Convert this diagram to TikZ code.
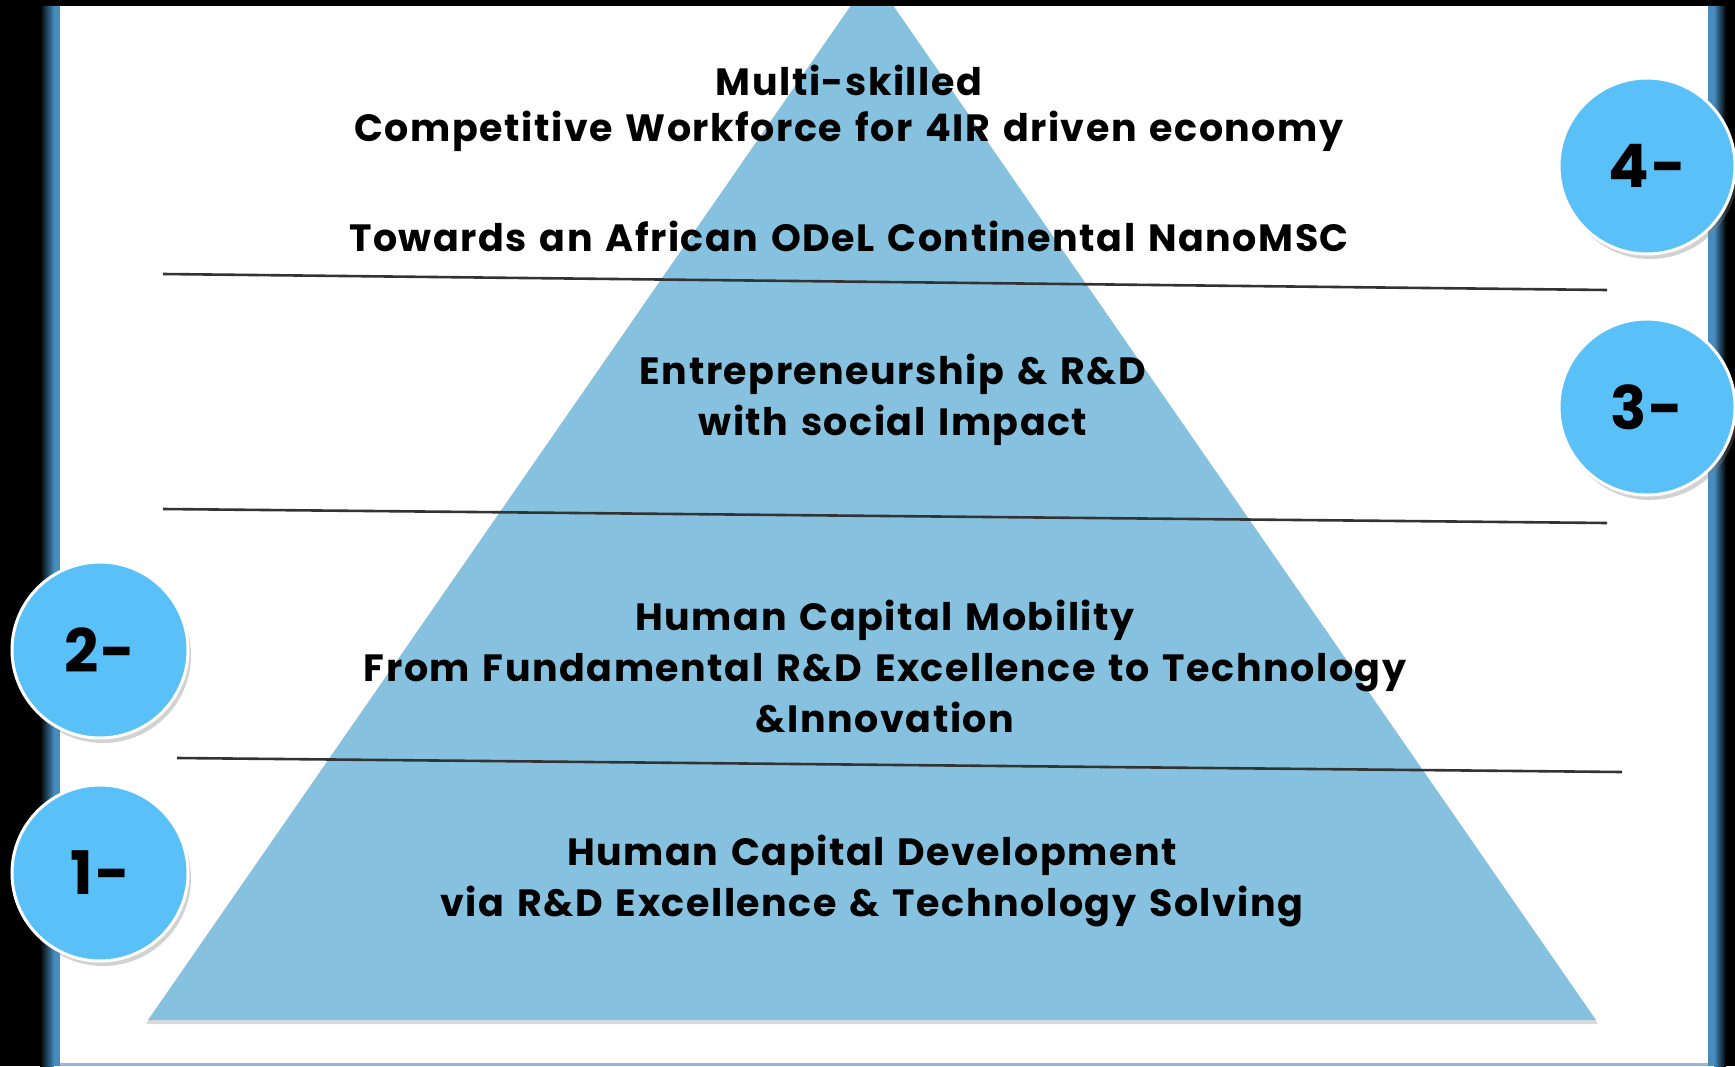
\documentclass[tikz,border=0pt]{standalone}
\usepackage{fontspec}
\setmainfont{Poppins}[LetterSpace=4.0, WordSpace=1.35]
\usetikzlibrary{shadows}
\definecolor{tri}{RGB}{134,194,223}
\definecolor{badge}{RGB}{90,192,248}
\definecolor{frameblue}{RGB}{70,140,190}
\begin{document}
\begin{tikzpicture}[x=0.5pt,y=-0.5pt,
  lbl/.style={font=\fontsize{19}{25.5}\selectfont\bfseries, text=black, align=center, inner sep=0pt},
  badgecirc/.style={circle, fill=badge, draw=white, line width=1.5pt, minimum size=88pt, inner sep=0pt,
     font=\fontsize{30}{30}\selectfont\bfseries,
     drop shadow={opacity=0.35, shadow xshift=1.5pt, shadow yshift=-2.5pt}},
  sepline/.style={line width=1.3pt, draw=black!80}]
\useasboundingbox (0,0) rectangle (1735,1066);
% frame
\fill[black] (0,0) rectangle (1735,1066);
\shade[left color=black, right color=frameblue] (40,6) rectangle (54,1066);
\fill[frameblue] (54,6) rectangle (60,1066);
\fill[frameblue] (1708,6) rectangle (1714,1066);
\shade[left color=frameblue, right color=black] (1714,6) rectangle (1726,1066);
\fill[white] (60,6) rectangle (1708,1063);
\fill[frameblue!60] (60,1063) rectangle (1708,1066);
% pyramid
\begin{scope}
\clip (60,6) rectangle (1708,1063);
\fill[black!15] (872,-22) -- (1598,1024) -- (146,1024) -- cycle;
\fill[tri] (872,-25) -- (1596,1020) -- (148,1020) -- cycle;
\end{scope}
% separator lines
\coordinate (l1a) at (163,274); \coordinate (l1b) at (1607,290);
\coordinate (l2a) at (163,509); \coordinate (l2b) at (1607,523);
\coordinate (l3a) at (177,758); \coordinate (l3b) at (1622,772);
\draw[sepline] (l1a) -- (l1b);
\draw[sepline] (l2a) -- (l2b);
\draw[sepline] (l3a) -- (l3b);
% texts
\node[lbl] (t4a) at (849,80) {Multi-skilled};
\node[lbl] (t4b) at (849,131) {Competitive Workforce for 4IR driven economy};
\node[lbl] (t4c) at (849,236) {Towards an African ODeL Continental NanoMSC};
\node[lbl] (t3) at (893,400) {Entrepreneurship \& R\&D\\with social Impact};
\node[lbl] (t2) at (885,666) {Human Capital Mobility\\From Fundamental R\&D Excellence to Technology\\\&Innovation};
\node[lbl] (t1) at (872,881) {Human Capital Development\\via R\&D Excellence \& Technology Solving};
% badges
\node[badgecirc] (c4) at (1647,166) {4-};
\node[badgecirc] (c3) at (1647,407) {3-};
\node[badgecirc] (c2) at (100,650) {2-};
\node[badgecirc] (c1) at (100,873) {1-};
\end{tikzpicture}
\end{document}
